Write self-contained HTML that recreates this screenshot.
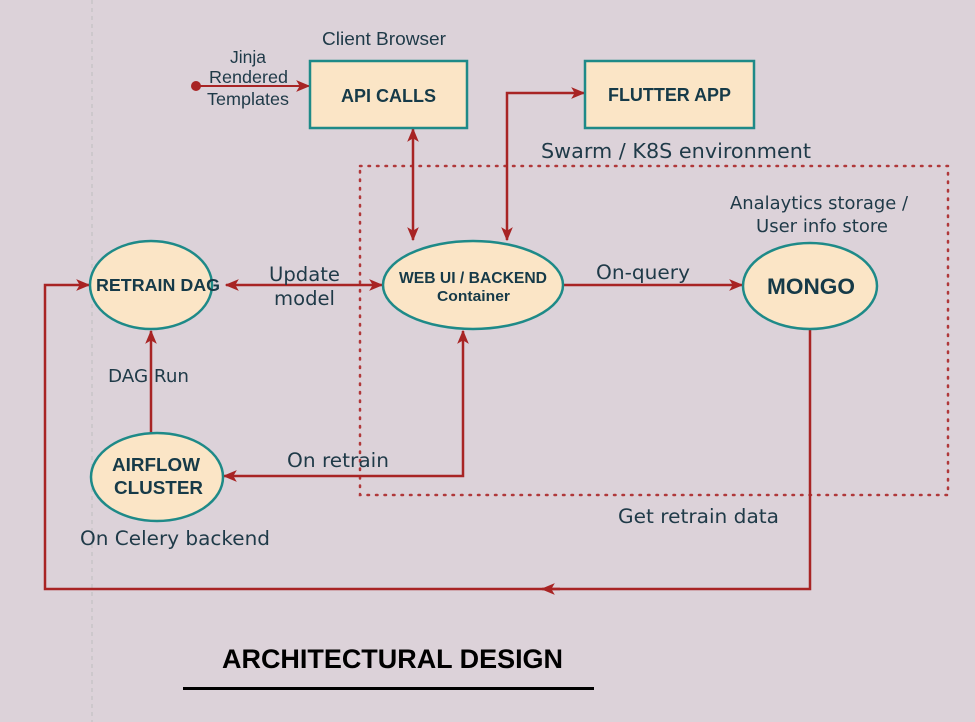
<!DOCTYPE html>
<html><head><meta charset="utf-8"><style>
html,body{margin:0;padding:0;background:#dcd2d9;}
svg{display:block}
.l{font-family:"DejaVu Sans",sans-serif;fill:#1f3a48;}
.s{font-family:"Liberation Sans",sans-serif;fill:#1f3a48;}
.b{font-family:"Liberation Sans",Arial,sans-serif;font-weight:bold;fill:#163a48;}
</style></head><body>
<svg width="975" height="722" viewBox="0 0 975 722" xmlns="http://www.w3.org/2000/svg">
<defs>
<marker id="a" viewBox="0 0 12 10" refX="11" refY="5" markerWidth="14" markerHeight="12" markerUnits="userSpaceOnUse" orient="auto-start-reverse">
<path d="M0,0 L12,5 L0,10 L3,5 Z" fill="#a82424"/></marker>
</defs>
<rect width="975" height="722" fill="#dcd2d9"/>
<line x1="92" y1="0" x2="92" y2="722" stroke="#c8c4c8" stroke-width="1.5" stroke-dasharray="4,4"/>
<rect x="360" y="166" width="588" height="329" fill="none" stroke="#b0383a" stroke-width="2.5" stroke-dasharray="1.5,7" stroke-linecap="round"/>
<g stroke="#a82424" stroke-width="2.5" fill="none">
<line x1="196" y1="86" x2="309" y2="86" marker-end="url(#a)" stroke-width="2"/>
<line x1="413" y1="129" x2="413" y2="240" marker-start="url(#a)" marker-end="url(#a)"/>
<polyline points="507,240 507,93 584,93" marker-start="url(#a)" marker-end="url(#a)"/>
<line x1="226" y1="285" x2="382" y2="285" marker-start="url(#a)" marker-end="url(#a)"/>
<line x1="563" y1="285" x2="742" y2="285" marker-end="url(#a)"/>
<line x1="151" y1="433" x2="151" y2="331" marker-end="url(#a)"/>
<polyline points="224,476 463,476 463,331" marker-start="url(#a)" marker-end="url(#a)"/>
<polyline points="810,329 810,589 45,589 45,285 89,285" marker-end="url(#a)"/>
<line x1="560" y1="589" x2="542" y2="589" marker-end="url(#a)"/>
</g>
<circle cx="196" cy="86" r="5" fill="#a82424"/>
<rect x="310" y="61" width="157" height="67" fill="#fbe5c6" stroke="#1e8a88" stroke-width="2.5"/>
<rect x="585" y="61" width="169" height="67" fill="#fbe5c6" stroke="#1e8a88" stroke-width="2.5"/>
<g fill="#fbe5c6" stroke="#1e8a88" stroke-width="2.5">
<ellipse cx="151" cy="285" rx="61" ry="44"/>
<ellipse cx="473" cy="285" rx="90" ry="44"/>
<ellipse cx="810" cy="286" rx="67" ry="43"/>
<ellipse cx="157" cy="477" rx="66" ry="44"/>
</g>
<g lengthAdjust="spacingAndGlyphs">
<text class="b" x="341" y="102" font-size="18" textLength="95" lengthAdjust="spacingAndGlyphs">API CALLS</text>
<text class="b" x="608" y="101" font-size="18" textLength="123" lengthAdjust="spacingAndGlyphs">FLUTTER APP</text>
<text class="b" x="96" y="291" font-size="17.5" textLength="124" lengthAdjust="spacingAndGlyphs">RETRAIN DAG</text>
<text class="b" x="399" y="283" font-size="15.5" textLength="148" lengthAdjust="spacingAndGlyphs">WEB UI / BACKEND</text>
<text class="b" x="437" y="301" font-size="15" textLength="73" lengthAdjust="spacingAndGlyphs">Container</text>
<text class="b" x="767" y="294" font-size="22" textLength="88" lengthAdjust="spacingAndGlyphs">MONGO</text>
<text class="b" x="112" y="471" font-size="18" textLength="88" lengthAdjust="spacingAndGlyphs">AIRFLOW</text>
<text class="b" x="114" y="494" font-size="18" textLength="89" lengthAdjust="spacingAndGlyphs">CLUSTER</text>

<text class="s" x="322" y="45" font-size="18" textLength="124" lengthAdjust="spacingAndGlyphs">Client Browser</text>
<text class="s" x="230" y="63" font-size="17.5" textLength="36" lengthAdjust="spacingAndGlyphs">Jinja</text>
<text class="s" x="209" y="83" font-size="17.5" textLength="79" lengthAdjust="spacingAndGlyphs">Rendered</text>
<text class="s" x="207" y="105" font-size="17.5" textLength="82" lengthAdjust="spacingAndGlyphs">Templates</text>
<text class="l" x="541" y="158" font-size="20" textLength="270" lengthAdjust="spacingAndGlyphs">Swarm / K8S environment</text>
<text class="l" x="730" y="209" font-size="17.5" textLength="178" lengthAdjust="spacingAndGlyphs">Analaytics storage /</text>
<text class="l" x="756" y="232" font-size="17.5" textLength="132" lengthAdjust="spacingAndGlyphs">User info store</text>
<text class="l" x="269" y="281" font-size="19.5" textLength="71" lengthAdjust="spacingAndGlyphs">Update</text>
<text class="l" x="274" y="305" font-size="19.5" textLength="61" lengthAdjust="spacingAndGlyphs">model</text>
<text class="l" x="596" y="279" font-size="19.5" textLength="94" lengthAdjust="spacingAndGlyphs">On-query</text>
<text class="l" x="108" y="382" font-size="17.5" textLength="81" lengthAdjust="spacingAndGlyphs">DAG Run</text>
<text class="l" x="287" y="467" font-size="19.5" textLength="102" lengthAdjust="spacingAndGlyphs">On retrain</text>
<text class="l" x="80" y="545" font-size="19.5" textLength="190" lengthAdjust="spacingAndGlyphs">On Celery backend</text>
<text class="l" x="618" y="523" font-size="19.5" textLength="161" lengthAdjust="spacingAndGlyphs">Get retrain data</text>
</g>
<text x="222" y="668" font-size="27" textLength="341" lengthAdjust="spacingAndGlyphs" style="font-family:'Liberation Sans',sans-serif;font-weight:bold;fill:#000">ARCHITECTURAL DESIGN</text>
<rect x="183" y="687" width="411" height="3" fill="#000"/>
</svg>
</body></html>
